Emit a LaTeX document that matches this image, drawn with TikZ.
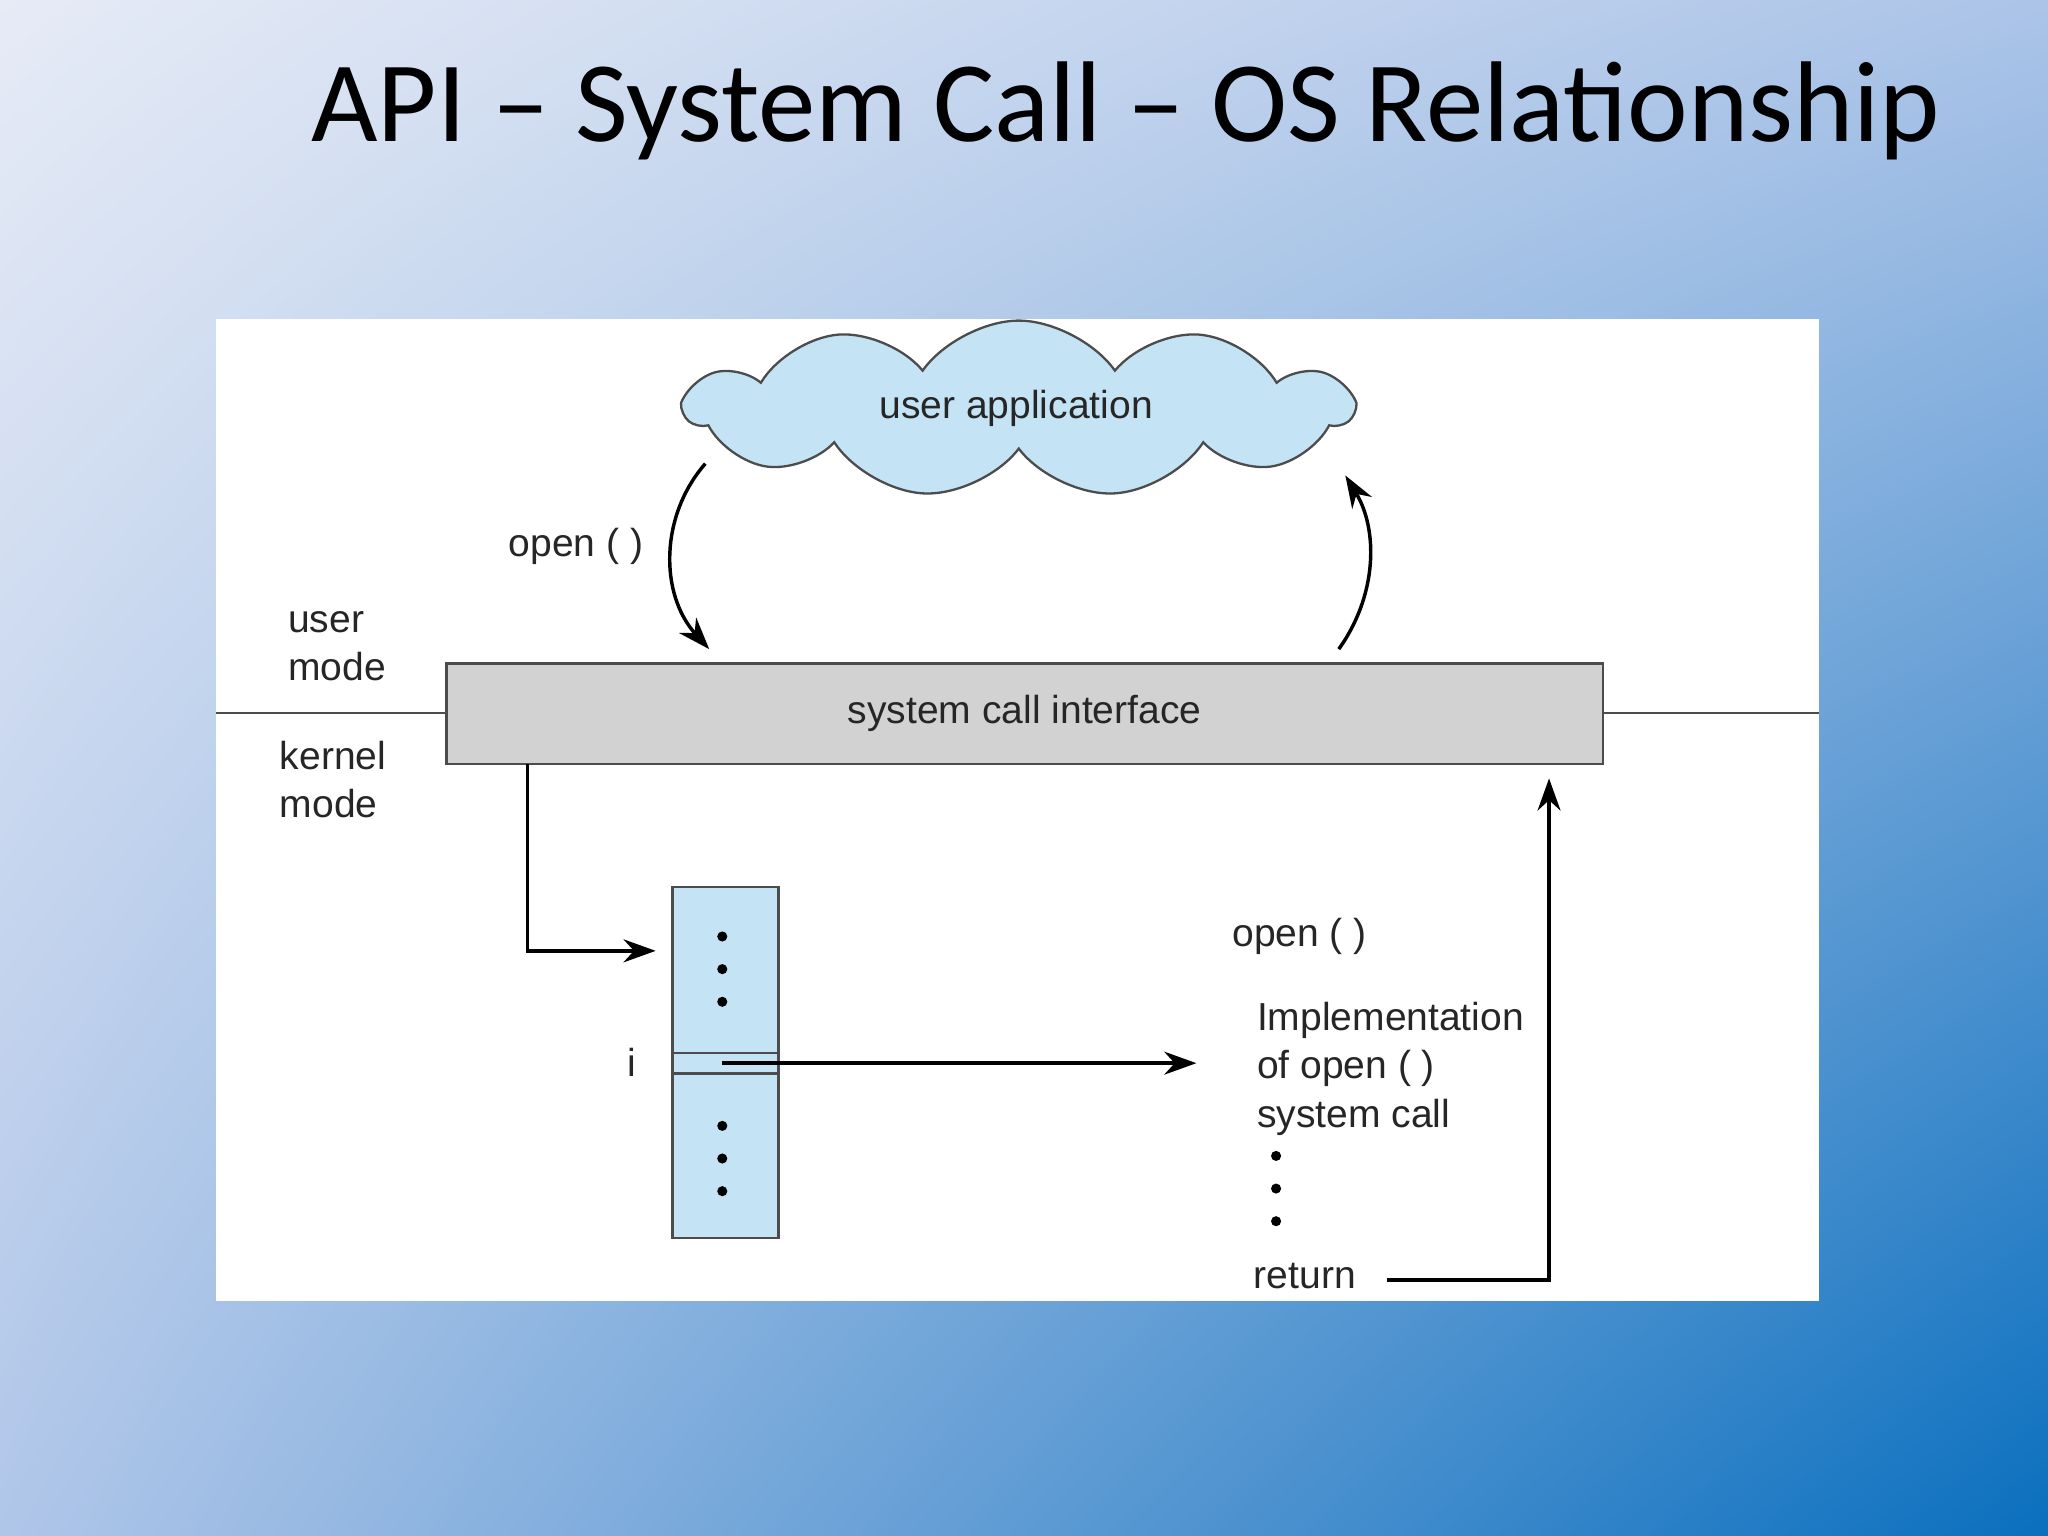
\documentclass[tikz,border=0pt]{standalone}
\usepackage{fontspec}
\setmainfont{Liberation Sans}
\newfontfamily\titlefont{Carlito}
\usetikzlibrary{shapes.symbols,arrows.meta,shadings}
\definecolor{bgul}{RGB}{230,235,246}
\definecolor{bgur}{RGB}{172,196,232}
\definecolor{bgll}{RGB}{176,198,233}
\definecolor{bglr}{RGB}{10,111,190}
\definecolor{lblue}{RGB}{196,228,245}
\definecolor{sgray}{RGB}{210,210,210}
\begin{document}
\begin{tikzpicture}[x=0.01cm,y=-0.01cm,
  lbl/.style={font=\fontsize{8.5pt}{10.5pt}\selectfont, text=black!85},
  arr/.style={line width=0.75pt, -{Stealth[length=7pt,width=5pt]}},
  dot/.style={circle, fill=black, inner sep=0pt, minimum size=2.2pt}]
\useasboundingbox (0,0) rectangle (1568,1176);
\shade[upper left=bgul, upper right=bgur, lower left=bgll, lower right=bglr]
 (0,0) rectangle (1568,1176);
\node[font=\titlefont\fontsize{25pt}{30pt}\selectfont] (title) at (862,85) {API – System Call – OS Relationship};
\fill[white] (165,244) rectangle (1393,996);
\node[cloud, cloud puffs=11, cloud puff arc=110, aspect=3.7, draw=black!70, fill=lblue,
  minimum width=5.1cm, minimum height=1.35cm, inner sep=0pt, line width=0.5pt] (cloud) at (780,313) {};
\node[lbl] (ua) at (778,313) {user application};
\coordinate (l1) at (165,546); \coordinate (l2) at (342,546);
\coordinate (r1) at (1227,546); \coordinate (r2) at (1393,546);
\draw[black!70, line width=0.4pt] (l1) -- (l2) (r1) -- (r2);
\node[draw=black!70, fill=sgray, minimum width=8.85cm, minimum height=0.77cm, inner sep=0pt, line width=0.5pt, lbl] (sci) at (784.5,546.5) {system call interface};
\node[lbl, align=left] (um) at (258,495) {user\\mode};
\node[lbl, align=left] (km) at (255,597) {kernel\\mode};
\coordinate (a1) at (540,355); \coordinate (a2) at (543,497);
\draw[arr] (a1) .. controls (505,395) and (505,455) .. (a2);
\node[lbl] (op1) at (441,418) {open ( )};
\coordinate (b1) at (1025,497); \coordinate (b2) at (1030,364);
\draw[arr] (b1) .. controls (1055,455) and (1055,405) .. (b2);
\node[draw=black!70, fill=lblue, minimum width=0.81cm, minimum height=2.69cm, inner sep=0pt, line width=0.5pt] (tab) at (555.5,813.5) {};
\draw[black!70, line width=0.5pt] (515,806) -- (596,806) (515,822) -- (596,822);
\coordinate (k1) at (404,585); \coordinate (k2) at (502,728);
\draw[arr] (k1) |- (k2);
\foreach \y in {717,742,767,862,887,912} \node[dot] at (553,\y) {};
\node[lbl] (i) at (484,813) {i};
\coordinate (c1) at (553,814); \coordinate (c2) at (916,814);
\draw[arr] (c1) -- (c2);
\node[lbl] (op2) at (995,717) {open ( )};
\node[lbl, align=left, anchor=north west] (impl) at (950,755) {Implementation\\of open ( )\\system call};
\foreach \y in {885,910,935} \node[dot] at (977,\y) {};
\node[lbl] (ret) at (999,977) {return};
\coordinate (d1) at (1062,980); \coordinate (d2) at (1186,596);
\draw[arr] (d1) -| (d2);
\end{tikzpicture}
\end{document}
